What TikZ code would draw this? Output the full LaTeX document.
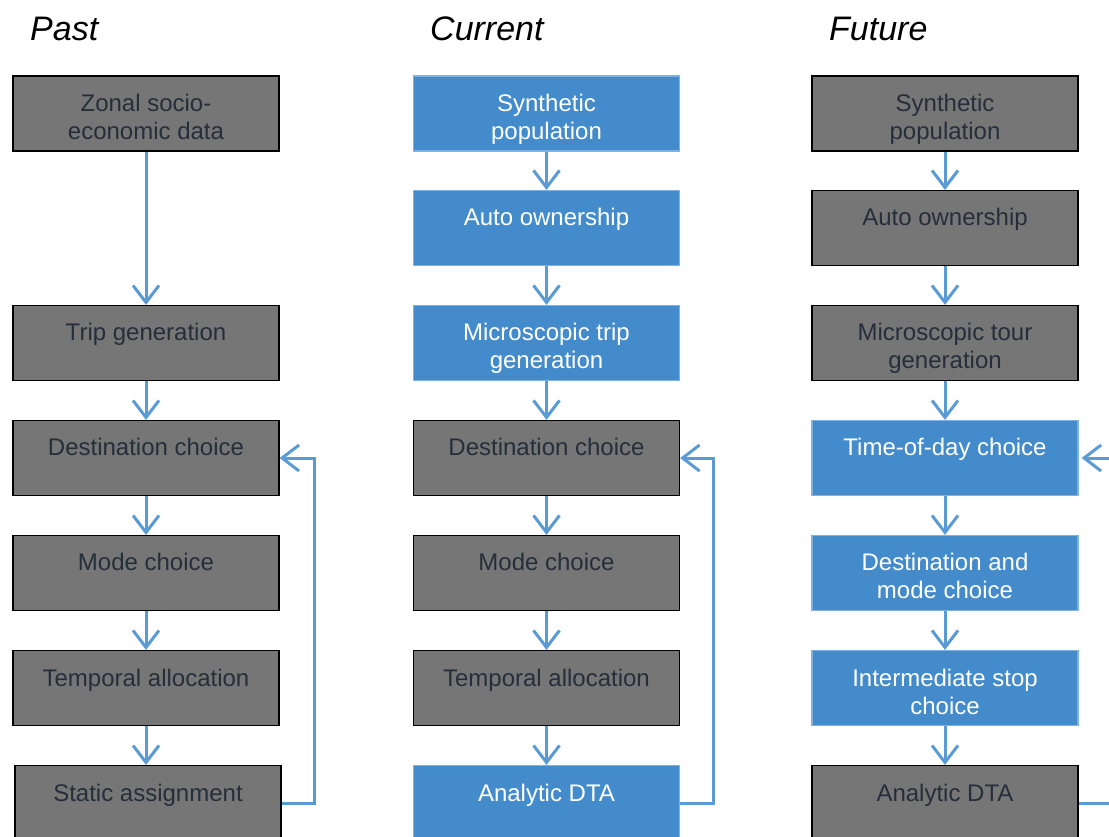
\documentclass[tikz,border=0pt]{standalone}
\usepackage{fontspec}
\setmainfont{Liberation Sans}
\usetikzlibrary{arrows.meta}

\definecolor{boxgrey}{RGB}{118,118,118}
\definecolor{boxblue}{RGB}{67,139,202}
\definecolor{edgeblue}{RGB}{125,178,226}
\definecolor{textgrey}{RGB}{38,46,58}
\definecolor{arrowblue}{RGB}{91,155,213}

\begin{document}
\begin{tikzpicture}[x=1pt, y=-1pt,
    gbox/.style={draw=black, line width=1.2pt, fill=boxgrey, minimum width=266pt, minimum height=75pt, inner sep=0pt},
    bbox/.style={draw=edgeblue, line width=1.2pt, fill=boxblue, minimum width=266pt, minimum height=75pt, inner sep=0pt},
    gtxt/.style={anchor=north, yshift=-18.5pt, inner sep=0pt, align=center, text=textgrey, font=\fontsize{24}{28}\selectfont},
    btxt/.style={gtxt, text=white},
    title/.style={anchor=base west, inner sep=0pt, font=\fontsize{34}{40}\selectfont\itshape},
    arrow/.style={-{Straight Barb[length=17pt, width=26pt]}, line width=3pt, arrowblue}
]
\useasboundingbox (0,0) rectangle (1109,836);
\clip (0,0) rectangle (1109,836);

% titles
\node[title] (past) at (30,40) {Past};
\node[title] (current) at (430,40) {Current};
\node[title] (future) at (829,40) {Future};

% past
\node[gbox] (p1) at (146,113.5) {};
\node[gtxt] (p1t) at (p1.north) {Zonal socio-\\economic data};
\node[gbox] (p3) at (146,343) {};
\node[gtxt] (p3t) at (p3.north) {Trip generation};
\node[gbox] (p4) at (146,458) {};
\node[gtxt] (p4t) at (p4.north) {Destination choice};
\node[gbox] (p5) at (146,573) {};
\node[gtxt] (p5t) at (p5.north) {Mode choice};
\node[gbox] (p6) at (146,688) {};
\node[gtxt] (p6t) at (p6.north) {Temporal allocation};
\node[gbox] (p7) at (148,803) {};
\node[gtxt] (p7t) at (p7.north) {Static assignment};

% current
\node[bbox] (c1) at (546.5,113.5) {};
\node[btxt] (c1t) at (c1.north) {Synthetic\\population};
\node[bbox] (c2) at (546.5,228) {};
\node[btxt] (c2t) at (c2.north) {Auto ownership};
\node[bbox] (c3) at (546.5,343) {};
\node[btxt] (c3t) at (c3.north) {Microscopic trip\\generation};
\node[gbox] (c4) at (546.5,458) {};
\node[gtxt] (c4t) at (c4.north) {Destination choice};
\node[gbox] (c5) at (546.5,573) {};
\node[gtxt] (c5t) at (c5.north) {Mode choice};
\node[gbox] (c6) at (546.5,688) {};
\node[gtxt] (c6t) at (c6.north) {Temporal allocation};
\node[bbox] (c7) at (546.5,803) {};
\node[btxt] (c7t) at (c7.north) {Analytic DTA};

% future
\node[gbox] (f1) at (945,113.5) {};
\node[gtxt] (f1t) at (f1.north) {Synthetic\\population};
\node[gbox] (f2) at (945,228) {};
\node[gtxt] (f2t) at (f2.north) {Auto ownership};
\node[gbox] (f3) at (945,343) {};
\node[gtxt] (f3t) at (f3.north) {Microscopic tour\\generation};
\node[bbox] (f4) at (945,458) {};
\node[btxt] (f4t) at (f4.north) {Time-of-day choice};
\node[bbox] (f5) at (945,573) {};
\node[btxt] (f5t) at (f5.north) {Destination and\\mode choice};
\node[bbox] (f6) at (945,688) {};
\node[btxt] (f6t) at (f6.north) {Intermediate stop\\choice};
\node[gbox] (f7) at (945,803) {};
\node[gtxt] (f7t) at (f7.north) {Analytic DTA};

% arrows
\draw[arrow] (p1) -- (p3);
\draw[arrow] (p3) -- (p4);
\draw[arrow] (p4) -- (p5);
\draw[arrow] (p5) -- (p6);
\draw[arrow] (p6.south) -- (p7.north -| p6.south);
\draw[arrow] (p7.east) -- ++(33,0) |- (p4.east);

\draw[arrow] (c1) -- (c2);
\draw[arrow] (c2) -- (c3);
\draw[arrow] (c3) -- (c4);
\draw[arrow] (c4) -- (c5);
\draw[arrow] (c5) -- (c6);
\draw[arrow] (c6) -- (c7);
\draw[arrow] (c7.east) -- ++(33,0) |- (c4.east);

\draw[arrow] (f1) -- (f2);
\draw[arrow] (f2) -- (f3);
\draw[arrow] (f3) -- (f4);
\draw[arrow] (f4) -- (f5);
\draw[arrow] (f5) -- (f6);
\draw[arrow] (f6) -- (f7);
\draw[arrow] (f7.east) -- ++(40,0) |- ([xshift=3pt]f4.east);

\end{tikzpicture}
\end{document}
